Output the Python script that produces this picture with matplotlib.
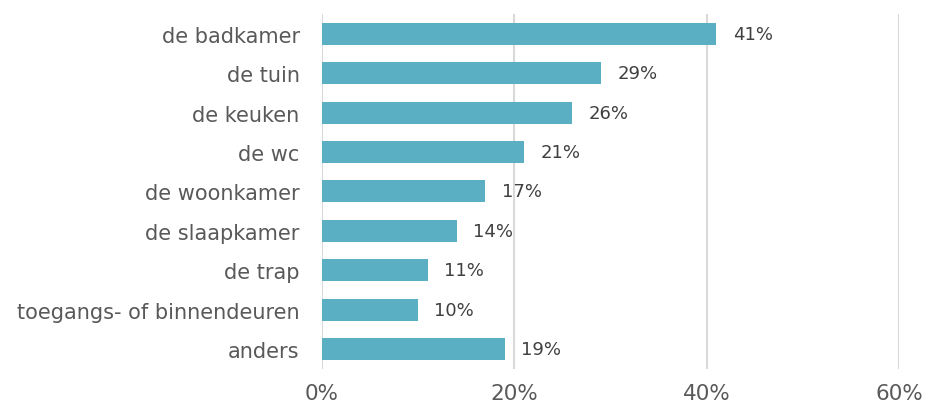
import matplotlib
matplotlib.use("Agg")
import matplotlib.pyplot as plt

categories = ["de badkamer", "de tuin", "de keuken", "de wc", "de woonkamer",
              "de slaapkamer", "de trap", "toegangs- of binnendeuren", "anders"]
values = [41, 29, 26, 21, 17, 14, 11, 10, 19]
xticks = [0, 20, 40, 60]

fig = plt.figure(figsize=(9.25, 4.06), dpi=100)
ax = fig.add_axes([0.348, 0.089, 0.624, 0.874])

y = list(range(len(categories)))[::-1]
ax.barh(y, values, height=0.56, color="#5BAFC3", zorder=3)
for yi, v in zip(y, values):
    ax.text(v + 1.7, yi, f"{v}%", va="center", ha="left", fontsize=13, color="#404040")

ax.set_xlim(0, 60)
ax.set_ylim(-0.5, len(categories) - 0.5)
ax.set_yticks(y)
ax.set_yticklabels(categories, fontsize=15, color="#595959")
ax.set_xticks(xticks)
ax.set_xticklabels([f"{t}%" for t in xticks], fontsize=15.5, color="#595959")
ax.tick_params(length=0)
ax.tick_params(axis="y", pad=16)
ax.tick_params(axis="x", pad=10)
ax.grid(axis="x", color="#D9D9D9", linewidth=1.5, zorder=0)
for s in ax.spines.values():
    s.set_visible(False)

fig.savefig("out.png", dpi=100)
